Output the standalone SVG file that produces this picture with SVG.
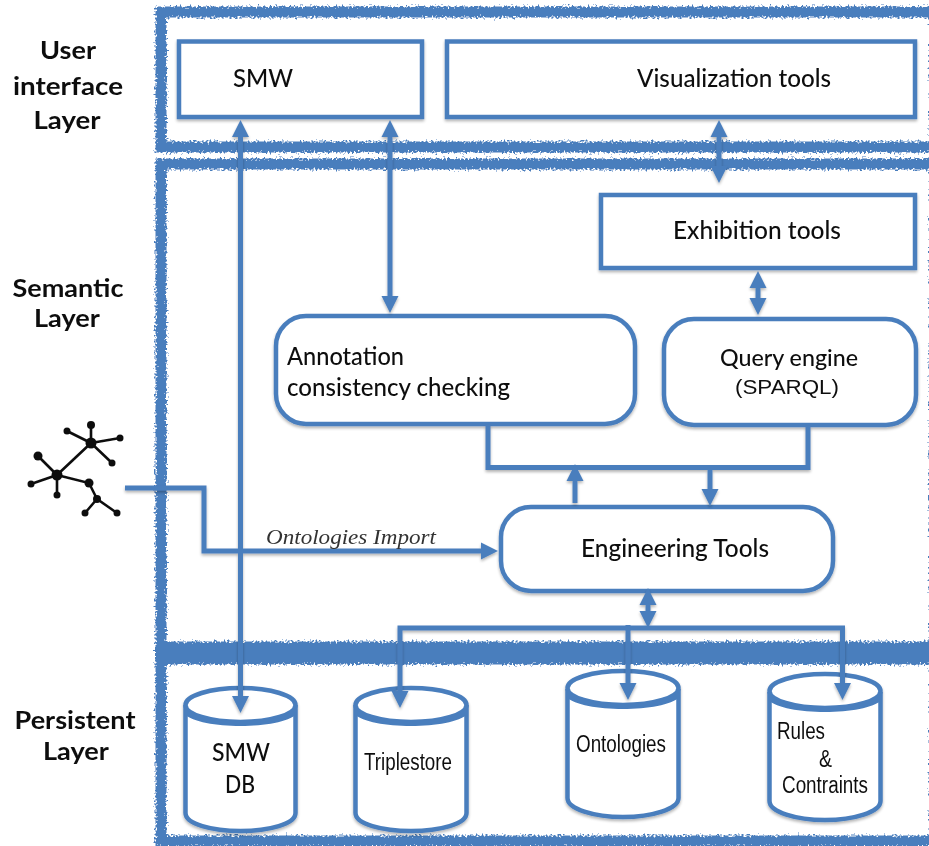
<svg xmlns="http://www.w3.org/2000/svg" width="929" height="846" viewBox="0 0 929 846">
<style>
.frame{fill:none;stroke:#4a7ebd;stroke-width:11}
.band{fill:none;stroke:#4a7ebd;stroke-width:13}
.box{fill:#fff;stroke:#4a7ebd;stroke-width:4.5}
.cyl{fill:#fff;stroke:#4a7ebd;stroke-width:4.5}
.lip{fill:#4a7ebd;stroke:none}
.con{fill:none;stroke:#4a7ebd;stroke-width:5}
.head{fill:#4a7ebd}
.c{font-family:"Lato","Open Sans",sans-serif;font-weight:500;font-size:24px;fill:#111}
.lab{font-family:"Lato","Open Sans",sans-serif;font-weight:700;font-size:25px;fill:#111;text-anchor:middle}
.h{font-family:"Liberation Sans",Arial,sans-serif;font-size:23px;fill:#111}
.t{font-family:"Liberation Serif","Times New Roman",serif;font-style:italic;font-size:22px;fill:#333}
.ic{stroke:#111;stroke-width:2.6;fill:none}
.nd{fill:#111}
</style>
<defs>
<filter id="rough" x="-5%" y="-5%" width="110%" height="110%">
<feTurbulence type="fractalNoise" baseFrequency="0.5" numOctaves="2" seed="4"/>
<feDisplacementMap in="SourceGraphic" scale="8" xChannelSelector="R" yChannelSelector="G"/>
</filter>
<filter id="sh" x="-10%" y="-10%" width="120%" height="120%">
<feGaussianBlur in="SourceAlpha" stdDeviation="1.5"/>
<feOffset dy="2"/>
<feComponentTransfer><feFuncA type="linear" slope="0.3"/></feComponentTransfer>
<feMerge><feMergeNode/><feMergeNode in="SourceGraphic"/></feMerge>
</filter>
<filter id="soft"><feGaussianBlur stdDeviation="0.45"/></filter>
</defs>
<rect width="929" height="846" fill="#fff"/>
<g id="frames" filter="url(#rough)">
<rect id="frame-ui" class="frame" x="161" y="12" width="774" height="135"/>
<rect id="frame-semantic" class="frame" x="161" y="164" width="774" height="483"/>
<rect id="frame-persistent" class="frame" x="161" y="659" width="774" height="182"/>
<path class="band" d="M155 653H935"/>
</g>
<g filter="url(#soft)">
<g id="node-smw" filter="url(#sh)"><rect class="box" x="179" y="41.500" width="243" height="75.500"/><text class="c" x="233" y="87" textLength="60" lengthAdjust="spacingAndGlyphs">SMW</text></g>
<g id="node-vis" filter="url(#sh)"><rect class="box" x="447" y="41.500" width="468" height="75.500"/><text class="c" x="637" y="87" textLength="194" lengthAdjust="spacingAndGlyphs">Visualization tools</text></g>
<g id="node-exh" filter="url(#sh)"><rect class="box" x="601" y="195" width="314" height="73"/><text class="c" x="673" y="239" textLength="168" lengthAdjust="spacingAndGlyphs">Exhibition tools</text></g>
<g id="node-ann" filter="url(#sh)"><rect class="box" x="276" y="316" width="359" height="108" rx="30"/><text class="c" x="287" y="365" textLength="117" lengthAdjust="spacingAndGlyphs">Annotation</text><text class="c" x="287" y="396" textLength="223" lengthAdjust="spacingAndGlyphs">consistency checking</text></g>
<g id="node-query" filter="url(#sh)"><rect class="box" x="664" y="319" width="252" height="106" rx="30"/><text class="c" x="720" y="366" textLength="138" lengthAdjust="spacingAndGlyphs" style="font-size:23px">Query engine</text><text class="h" x="735" y="394" textLength="104" lengthAdjust="spacingAndGlyphs" style="font-size:21px">(SPARQL)</text></g>
<g id="node-eng" filter="url(#sh)"><rect class="box" x="501" y="507" width="332" height="84" rx="30"/><text class="c" x="581" y="557" textLength="188" lengthAdjust="spacingAndGlyphs">Engineering Tools</text></g>
<g id="node-smwdb" filter="url(#sh)"><path class="cyl" d="M185.500 705V813C185.500 824 212 831 240.500 831S295.500 824 295.500 813V705"/><ellipse class="cyl" cx="240.500" cy="705" rx="55" ry="17"/><path class="lip" d="M184 708C195 718 218 721 240.500 721S286 718 297 708V714C288 722 265 726 240.500 726S193 722 184 714Z"/><text class="c" x="212" y="761" textLength="58" lengthAdjust="spacingAndGlyphs">SMW</text><text class="c" x="225" y="793" textLength="30" lengthAdjust="spacingAndGlyphs">DB</text></g>
<g id="node-triple" filter="url(#sh)"><path class="cyl" d="M355.500 705V813C355.500 824 382 831 411 831S466.500 824 466.500 813V705"/><ellipse class="cyl" cx="411" cy="705" rx="55.500" ry="17"/><path class="lip" d="M354 708C365 718 388 721 411 721S457 718 468 708V714C459 722 436 726 411 726S363 722 354 714Z"/><text class="h" x="364" y="770" textLength="88" lengthAdjust="spacingAndGlyphs">Triplestore</text></g>
<g id="node-onto" filter="url(#sh)"><path class="cyl" d="M567.500 689V798C567.500 809 594 817 623 817S678.500 809 678.500 798V689"/><ellipse class="cyl" cx="623" cy="688" rx="55.500" ry="17"/><path class="lip" d="M566 691C577 701 600 704 623 704S669 701 680 691V697C671 705 648 709 623 709S575 705 566 697Z"/><text class="h" x="576" y="752" textLength="90" lengthAdjust="spacingAndGlyphs">Ontologies</text></g>
<g id="node-rules" filter="url(#sh)"><path class="cyl" d="M769.500 692V801C769.500 812 796 820 825 820S880.500 812 880.500 801V692"/><ellipse class="cyl" cx="825" cy="691" rx="55.500" ry="17"/><path class="lip" d="M768 694C779 704 802 707 825 707S871 704 882 694V700C873 708 850 712 825 712S777 708 768 700Z"/><text class="h" x="777" y="739" textLength="48" lengthAdjust="spacingAndGlyphs">Rules</text><text class="h" x="819" y="767" textLength="13" lengthAdjust="spacingAndGlyphs">&amp;</text><text class="h" x="782" y="793" textLength="86" lengthAdjust="spacingAndGlyphs">Contraints</text></g>
<g id="connectors" filter="url(#sh)">
<path class="con" d="M240.500 130V700"/><path class="head" d="M240.500 120l8.500 17h-17zM240.500 713l-8.500-17h17z"/>
<path class="con" d="M390 130V303"/><path class="head" d="M390 120l8.500 17h-17zM390 313l-8.500-17h17z"/>
<path class="con" d="M719 130V173"/><path class="head" d="M719 120l8.500 17h-17zM719 183l-8.500-17h17z"/>
<path class="con" d="M758 280V306"/><path class="head" d="M758 271l8.500 17h-17zM758 315l-8.500-17h17z"/>
<path class="con" d="M488 425V467.500H808V426"/>
<path class="con" d="M575 503V474"/><path class="head" d="M575 464l8.500 17h-17z"/>
<path class="con" d="M710 468V496"/><path class="head" d="M710 506l-8.500-17h17z"/>
<path class="con" d="M648 596V620"/><path class="head" d="M648 588l8.500 17h-17zM648 628l-8.500-17h17z"/>
<path class="con" d="M400 698V628H842.500V690M628 625V690"/>
<path class="head" d="M400 708l-8.500-17h17zM628 700l-8.500-17h17zM842.500 700l-8.500-17h17z"/>
<path class="con" d="M125 488H204V551H488"/><path class="head" d="M498 551l-17 8.500v-17z"/>
</g>
<g id="node-ontology-icon">
<path class="ic" d="M67 431L91 443M91 425V443M120 438L91 443M112 463L91 443M91 443L57 475M38 456L57 475M31 484L57 475M57 495V475M57 475L89 483L97 499M85 513L97 499L117 513"/>
<circle class="nd" cx="57" cy="475" r="5.500"/><circle class="nd" cx="91" cy="443" r="5.500"/><circle class="nd" cx="67" cy="431" r="3.500"/><circle class="nd" cx="91" cy="425" r="4"/><circle class="nd" cx="120" cy="438" r="3.500"/><circle class="nd" cx="112" cy="463" r="3.500"/><circle class="nd" cx="38" cy="456" r="4.500"/><circle class="nd" cx="31" cy="484" r="3.500"/><circle class="nd" cx="57" cy="495" r="3.500"/><circle class="nd" cx="89" cy="483" r="4.500"/><circle class="nd" cx="97" cy="499" r="4"/><circle class="nd" cx="85" cy="513" r="3.500"/><circle class="nd" cx="117" cy="513" r="3.500"/>
</g>
<g id="labels">
<text class="lab" x="68" y="59" textLength="56" lengthAdjust="spacingAndGlyphs">User</text>
<text class="lab" x="68" y="95" textLength="110" lengthAdjust="spacingAndGlyphs">interface</text>
<text class="lab" x="67" y="129" textLength="67" lengthAdjust="spacingAndGlyphs">Layer</text>
<text class="lab" x="68" y="297" textLength="111" lengthAdjust="spacingAndGlyphs">Semantic</text>
<text class="lab" x="67" y="327" textLength="66" lengthAdjust="spacingAndGlyphs">Layer</text>
<text class="lab" x="75" y="729" textLength="121" lengthAdjust="spacingAndGlyphs">Persistent</text>
<text class="lab" x="76" y="760" textLength="66" lengthAdjust="spacingAndGlyphs">Layer</text>
<text class="t" x="266" y="544" textLength="170" lengthAdjust="spacingAndGlyphs">Ontologies Import</text>
</g>
</g>
</svg>
